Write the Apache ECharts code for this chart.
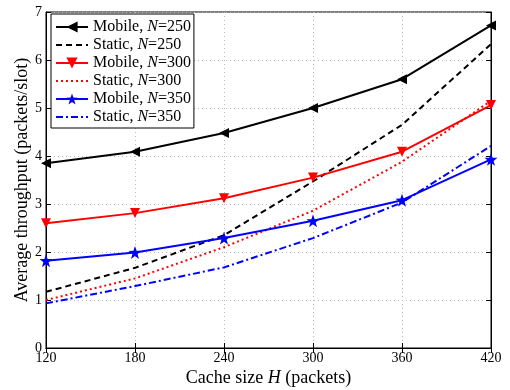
<!DOCTYPE html>
<html>
<head>
<meta charset="utf-8">
<script src="https://cdn.jsdelivr.net/npm/echarts@6/dist/echarts.min.js"></script>
<style>
  html, body { margin: 0; padding: 0; background: #fff; }
  #chart { width: 510px; height: 390px; }
</style>
</head>
<body>
<div id="chart"></div>
<script>
// Cache size (packets) on x axis
const cacheSizes = [120, 180, 240, 300, 360, 420];

// Average throughput (packets/slot)
const mobile250 = [3.85, 4.09, 4.48, 5.0, 5.6, 6.72];
const static250 = [1.17, 1.67, 2.35, 3.47, 4.65, 6.33];
const mobile300 = [2.6, 2.81, 3.12, 3.55, 4.09, 5.06];
const static300 = [1.0, 1.45, 2.1, 2.86, 3.88, 5.15];
const mobile350 = [1.82, 1.99, 2.29, 2.65, 3.08, 3.93];
const static350 = [0.93, 1.29, 1.68, 2.29, 3.03, 4.21];

const FONT = 'Liberation Serif';
const STAR = 'path://M0,-10 L2.35,-3.24 L9.51,-3.09 L3.8,1.24 L5.88,8.09 L0,4 L-5.88,8.09 L-3.8,1.24 L-9.51,-3.09 L-2.35,-3.24 Z';
const TRI_LEFT = 'path://M0,5 L10,0 L10,10 Z';
const TRI_DOWN = 'path://M0,0 L10,0 L5,10 Z';

const toPairs = vals => vals.map((v, i) => [cacheSizes[i], v]);

function lineSeries(name, vals, color, type, symbol, size) {
  return {
    name,
    type: 'line',
    data: toPairs(vals),
    symbol: symbol || 'none',
    symbolSize: size || 10,
    showSymbol: !!symbol,
    // static series have no markers; hide the legend's fallback circle too
    itemStyle: { color, opacity: symbol ? 1 : 0 },
    lineStyle: { color, width: 2, type, opacity: 1 },
    animation: false
  };
}

const chart = echarts.init(document.getElementById('chart'));

const gridLine = { show: true, lineStyle: { color: '#b8b8b8', type: [1, 3], width: 1 } };
const tick = { show: true, inside: true, length: 5, lineStyle: { color: '#000' } };

const option = {
  textStyle: { fontFamily: FONT },
  grid: {
    left: 46, right: 19, top: 12, bottom: 42,
    outerBoundsMode: 'none',
    show: true, borderColor: '#000', borderWidth: 1
  },
  legend: {
    orient: 'vertical',
    left: 51,
    top: 14,
    padding: [5, 3, 3, 4],
    itemWidth: 32,
    itemHeight: 14,
    itemGap: 2,
    backgroundColor: '#fff',
    borderColor: '#000',
    borderWidth: 1,
    borderRadius: 0,
    textStyle: {
      fontFamily: FONT,
      fontSize: 16,
      lineHeight: 15,
      color: '#000',
      rich: { i: { fontFamily: FONT, fontSize: 16, fontStyle: 'italic', color: '#000', lineHeight: 15 } }
    },
    formatter: name => {
      const parts = name.split(', N=');
      return parts[0] + ', {i|N}=' + parts[1];
    }
  },
  xAxis: [
    {
      type: 'value',
      min: 120, max: 420, interval: 60,
      name: 'Cache size {i|H} (packets)',
      nameLocation: 'middle',
      nameGap: 21,
      nameMoveOverlap: false,
      nameTextStyle: {
        fontFamily: FONT, fontSize: 18, color: '#000',
        rich: { i: { fontFamily: FONT, fontSize: 18, fontStyle: 'italic', color: '#000' } }
      },
      axisLine: { show: true, lineStyle: { color: '#000' } },
      axisTick: tick,
      axisLabel: { color: '#000', fontSize: 14, fontFamily: FONT, margin: 3 },
      splitLine: gridLine
    },
    {
      type: 'value', position: 'top',
      min: 120, max: 420, interval: 60,
      axisLine: { show: true, lineStyle: { color: '#000' } },
      axisTick: tick,
      axisLabel: { show: false },
      splitLine: { show: false }
    }
  ],
  yAxis: [
    {
      type: 'value',
      min: 0, max: 7, interval: 1,
      name: 'Average throughput (packets/slot)',
      nameLocation: 'middle',
      nameGap: 15,
      nameMoveOverlap: false,
      nameTextStyle: { fontFamily: FONT, fontSize: 18, color: '#000' },
      axisLine: { show: true, lineStyle: { color: '#000' } },
      axisTick: tick,
      axisLabel: { color: '#000', fontSize: 14, fontFamily: FONT, margin: 4 },
      splitLine: gridLine
    },
    {
      type: 'value', position: 'right',
      min: 0, max: 7, interval: 1,
      axisLine: { show: true, lineStyle: { color: '#000' } },
      axisTick: tick,
      axisLabel: { show: false },
      splitLine: { show: false }
    }
  ],
  series: [
    lineSeries('Mobile, N=250', mobile250, '#000', 'solid', TRI_LEFT, 10),
    lineSeries('Static, N=250', static250, '#000', [6, 4]),
    lineSeries('Mobile, N=300', mobile300, '#ff0000', 'solid', TRI_DOWN, 10),
    lineSeries('Static, N=300', static300, '#ff0000', [2, 3]),
    lineSeries('Mobile, N=350', mobile350, '#0000ff', 'solid', STAR, 13),
    lineSeries('Static, N=350', static350, '#0000ff', [7, 3, 2, 3])
  ]
};

chart.setOption(option);
</script>
</body>
</html>
